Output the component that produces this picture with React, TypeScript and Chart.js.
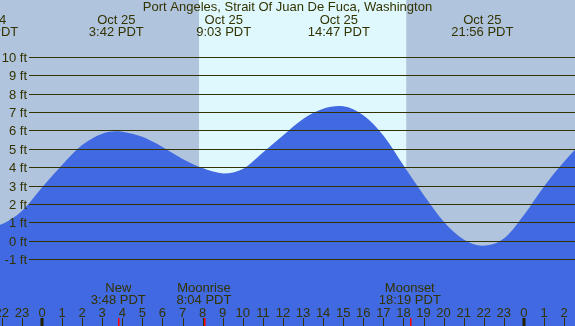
import { useEffect, useRef } from "react";
import { Chart, registerables } from "chart.js";

Chart.register(...registerables);

// ---- data (hours measured from midnight starting Oct 25, PDT) ----
const TITLE = "Port Angeles, Strait Of Juan De Fuca, Washington";

const tideHours = [
  -2.73, -2, -1, 0, 1, 2, 3, 3.7, 4, 5, 6, 7, 8, 9.05, 10, 11, 12, 13, 14, 14.78,
  15, 16, 17, 18, 19, 20, 21, 21.93, 23, 24, 25, 26, 27, 27.7,
];
const tideFeet = [
  0.75, 0.9, 1.62, 2.9, 4.12, 5.2, 5.82, 5.95, 5.93, 5.65, 5.1, 4.45, 3.95, 3.66, 3.9, 4.8, 5.72, 6.62, 7.18, 7.32,
  7.31, 6.82, 5.72, 4.1, 2.5, 1.05, 0.07, -0.27, 0.12, 1.4, 2.95, 4.3, 5.35, 5.5,
];

const extremeHours = [-2.73, 3.7, 9.05, 14.78, 21.93];
const extremeDates = ["Oct 24", "Oct 25", "Oct 25", "Oct 25", "Oct 25"];
const extremeTimes = ["21:16 PDT", "3:42 PDT", "9:03 PDT", "14:47 PDT", "21:56 PDT"];

const moonHours = [3.8, 8.067, 18.317];
const moonNames = ["New", "Moonrise", "Moonset"];
const moonTimes = ["3:48 PDT", "8:04 PDT", "18:19 PDT"];

const sunriseHour = 7.82;
const sunsetHour = 18.14;

const gridFeet = [-1, 0, 1, 2, 3, 4, 5, 6, 7, 8, 9, 10];
const hourTicks = [
  -2, -1, 0, 1, 2, 3, 4, 5, 6, 7, 8, 9, 10, 11, 12, 13, 14, 15, 16, 17, 18, 19, 20,
  21, 22, 23, 24, 25, 26,
];

const X_MIN = -2.0916;
const X_MAX = 26.544;
const Y_MIN = -4.638;
const Y_MAX = 13.09;

// ---- styles ----
const NIGHT = "#b0c4de";
const DAY = "#dff8fe";
const WATER = "#4169e1";
const INK = "#333300";
const FONT = "13px 'Liberation Sans', Arial, sans-serif";

const decorPlugin = {
  id: "tideDecor",
  beforeDraw(chart: any) {
    const { ctx, scales } = chart;
    const x = scales.x;
    ctx.save();
    ctx.fillStyle = NIGHT;
    ctx.fillRect(0, 0, chart.width, chart.height);
    const x1 = x.getPixelForValue(sunriseHour);
    const x2 = x.getPixelForValue(sunsetHour);
    ctx.fillStyle = DAY;
    ctx.fillRect(x1, 0, x2 - x1, chart.height);
    ctx.restore();
  },
  afterDatasetsDraw(chart: any) {
    const { ctx, scales } = chart;
    const x = scales.x;
    const y = scales.y;
    const W = chart.width;
    const H = chart.height;
    ctx.save();
    ctx.font = FONT;
    ctx.fillStyle = INK;
    ctx.strokeStyle = INK;
    ctx.lineWidth = 1;

    // horizontal grid lines + labels
    ctx.textAlign = "right";
    ctx.textBaseline = "alphabetic";
    gridFeet.forEach((f) => {
      const py = Math.round(y.getPixelForValue(f)) + 0.5;
      ctx.beginPath();
      ctx.moveTo(29, py);
      ctx.lineTo(W, py);
      ctx.stroke();
      ctx.fillText(`${f} ft`, 27, py + 4);
    });

    // title
    ctx.textAlign = "center";
    ctx.fillText(TITLE, W / 2, 10.5);

    // high / low labels
    extremeHours.forEach((h, i) => {
      const px = x.getPixelForValue(h);
      ctx.fillText(extremeDates[i], px, 24);
      ctx.fillText(extremeTimes[i], px, 36);
    });

    // moon labels
    moonHours.forEach((h, i) => {
      const px = x.getPixelForValue(h);
      ctx.fillText(moonNames[i], px, 292);
      ctx.fillText(moonTimes[i], px, 304);
    });

    // hour labels + ticks
    hourTicks.forEach((h) => {
      const px = x.getPixelForValue(h);
      const label = String(((h % 24) + 24) % 24);
      ctx.fillStyle = INK;
      ctx.fillText(label, px, 316.5);
      if (((h % 24) + 24) % 24 === 0) {
        ctx.fillStyle = "#222200";
        ctx.fillRect(Math.round(px) - 1.5, 318, 3, H - 318);
      } else {
        ctx.fillStyle = INK;
        ctx.fillRect(Math.round(px), 318, 1, H - 318);
      }
    });

    // moon event ticks
    ctx.fillStyle = "#ff0000";
    moonHours.forEach((h) => {
      const px = x.getPixelForValue(h);
      ctx.fillRect(Math.round(px), 318, 1.5, H - 318);
    });

    ctx.restore();
  },
};

export default function App() {
  const canvasRef = useRef<HTMLCanvasElement | null>(null);

  useEffect(() => {
    document.body.style.margin = "0";
    const canvas = canvasRef.current;
    if (!canvas) return;
    const chart = new Chart(canvas, {
      type: "line",
      data: {
        datasets: [
          {
            data: tideHours.map((h, i) => ({ x: h, y: tideFeet[i] })),
            fill: "start",
            backgroundColor: WATER,
            borderColor: "rgba(0,0,0,0)",
            borderWidth: 0,
            pointRadius: 0,
            cubicInterpolationMode: "monotone",
          },
        ],
      },
      options: {
        animation: false,
        responsive: false,
        devicePixelRatio: 1,
        layout: { padding: 0 },
        plugins: {
          legend: { display: false },
          tooltip: { enabled: false },
          title: { display: false },
        },
        scales: {
          x: { type: "linear", min: X_MIN, max: X_MAX, display: false },
          y: { type: "linear", min: Y_MIN, max: Y_MAX, display: false },
        },
      },
      plugins: [decorPlugin],
    });
    return () => chart.destroy();
  }, []);

  return (
    <div style={{ position: "absolute", left: 0, top: 0, width: 575, height: 326 }}>
      <canvas ref={canvasRef} width={575} height={326} style={{ display: "block" }} />
    </div>
  );
}
